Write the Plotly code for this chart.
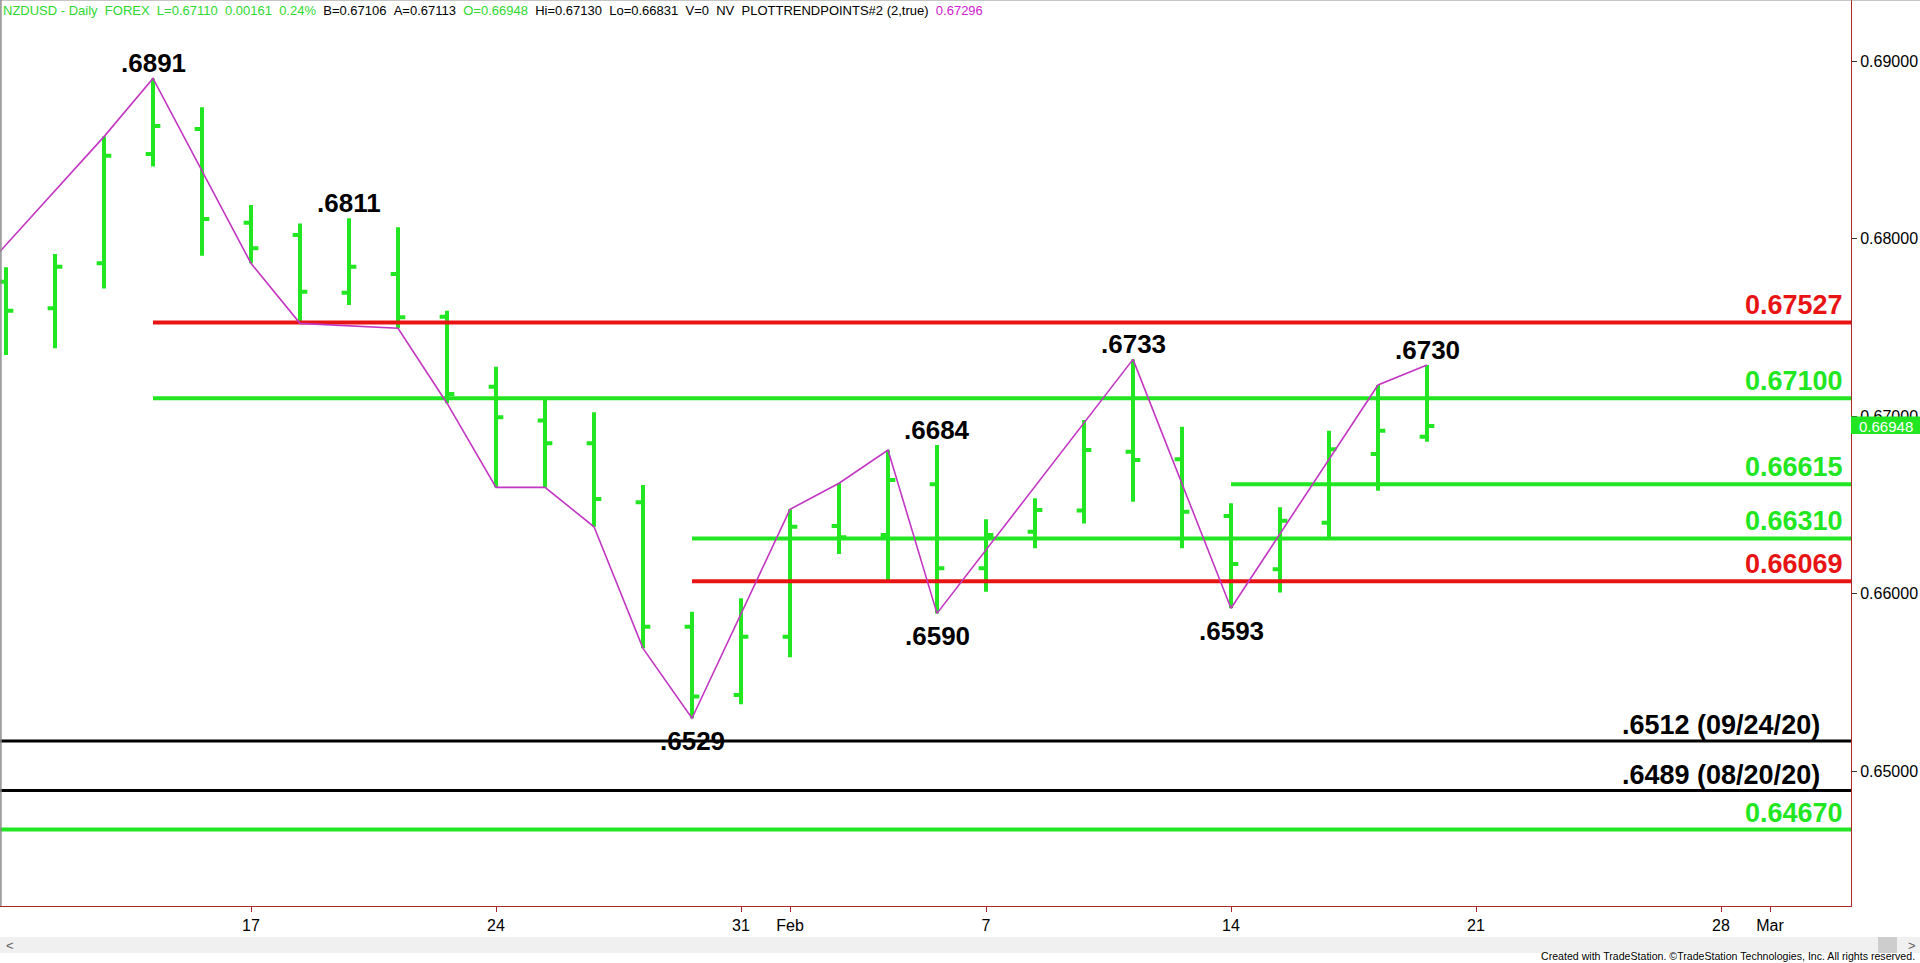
import numpy as np
import plotly.graph_objects as go

# ---------------- data ----------------
dates = ["2022-01-10", "2022-01-11", "2022-01-12", "2022-01-13", "2022-01-14",
         "2022-01-17", "2022-01-18", "2022-01-19", "2022-01-20", "2022-01-21",
         "2022-01-24", "2022-01-25", "2022-01-26", "2022-01-27", "2022-01-28",
         "2022-01-31", "2022-02-01", "2022-02-02", "2022-02-03", "2022-02-04",
         "2022-02-07", "2022-02-08", "2022-02-09", "2022-02-10", "2022-02-11",
         "2022-02-14", "2022-02-15", "2022-02-16", "2022-02-17", "2022-02-18"]
opens = [0.67757, 0.67607, 0.67860, 0.68476, 0.68617,
         0.68089, 0.68020, 0.67695, 0.67800, 0.67559,
         0.67165, 0.66974, 0.66846, 0.66514, 0.65813,
         0.65428, 0.65757, 0.66380, 0.66330, 0.66615,
         0.66142, 0.66348, 0.66467, 0.66799, 0.66756,
         0.66437, 0.66136, 0.66399, 0.66786, 0.66883]
highs = [0.67838, 0.67913, 0.68574, 0.68902, 0.68739,
         0.68189, 0.68085, 0.68114, 0.68063, 0.67593,
         0.67278, 0.67090, 0.67021, 0.66611, 0.65897,
         0.65973, 0.66474, 0.66621, 0.66808, 0.66837,
         0.66418, 0.66536, 0.66977, 0.67319, 0.66940,
         0.66508, 0.66486, 0.66917, 0.67175, 0.67287]
lows = [0.67344, 0.67381, 0.67719, 0.68405, 0.67903,
        0.67860, 0.67522, 0.67625, 0.67494, 0.67072,
        0.66598, 0.66598, 0.66376, 0.65691, 0.65297,
        0.65376, 0.65641, 0.66223, 0.66076, 0.65888,
        0.66010, 0.66255, 0.66395, 0.66517, 0.66255,
        0.65917, 0.66005, 0.66305, 0.66579, 0.66855]
closes = [0.67593, 0.67841, 0.68466, 0.68634, 0.68110,
          0.67945, 0.67700, 0.67841, 0.67556, 0.67124,
          0.66993, 0.66846, 0.66532, 0.65813, 0.65419,
          0.65757, 0.66376, 0.66317, 0.66639, 0.66142,
          0.66330, 0.66470, 0.66808, 0.66752, 0.66461,
          0.66166, 0.66410, 0.66812, 0.66917, 0.66944]

# zig-zag trend points (PlotTrendPoints)
trend_dates = ["2022-01-07", "2022-01-12", "2022-01-13", "2022-01-17", "2022-01-18",
               "2022-01-20", "2022-01-21", "2022-01-24", "2022-01-25", "2022-01-26",
               "2022-01-27", "2022-01-28", "2022-02-01", "2022-02-02", "2022-02-03",
               "2022-02-04", "2022-02-10", "2022-02-14", "2022-02-17", "2022-02-18"]
trend_prices = [0.6766, 0.68574, 0.68902, 0.67860, 0.67522,
                0.67494, 0.67072, 0.66598, 0.66598, 0.66376,
                0.65691, 0.65297, 0.66474, 0.66621, 0.66808,
                0.65888, 0.67319, 0.65917, 0.67175, 0.67287]

# swing labels
pivot_dates = ["2022-01-13", "2022-01-19", "2022-01-28", "2022-02-04",
               "2022-02-04", "2022-02-10", "2022-02-14", "2022-02-18"]
pivot_prices = [0.68902, 0.68114, 0.65297, 0.66837,
                0.65888, 0.67319, 0.65917, 0.67287]
pivot_texts = [".6891", ".6811", ".6529", ".6684", ".6590", ".6733", ".6593", ".6730"]
pivot_side = ["high", "high", "low", "high", "low", "high", "low", "high"]

# horizontal levels
level_prices = [0.67527, 0.67100, 0.66615, 0.66310, 0.66069]
level_start = ["2022-01-13", "2022-01-13", "2022-02-14", "2022-01-28", "2022-01-28"]
level_texts = ["0.67527", "0.67100", "0.66615", "0.66310", "0.66069"]
level_kind = ["red", "green", "green", "green", "red"]

hist_prices = [0.65169, 0.6489]
hist_texts = [".6512 (09/24/20)", ".6489 (08/20/20)"]
bottom_level_price = 0.6467
bottom_level_text = "0.64670"

tick_dates = ["2022-01-17", "2022-01-24", "2022-01-31", "2022-02-01", "2022-02-07",
              "2022-02-14", "2022-02-21", "2022-02-28", "2022-03-01"]
tick_labels = ["17", "24", "31", "Feb", "7", "14", "21", "28", "Mar"]
y_ticks = [0.65, 0.66, 0.67, 0.68, 0.69]

last_price = 0.66948

# ---------------- styles ----------------
GREEN = "#22E622"
RED = "#E81414"
MAGENTA = "#C236C2"
AXIS = "#A8282A"
FONT = "Liberation Sans, Arial, sans-serif"
kind_color = {"red": RED, "green": GREEN}

START = dates[0]


def idx(d):
    return int(np.busday_count(START, d)) if d >= START else -int(np.busday_count(d, START))


xb = [idx(d) for d in dates]
XMIN, XMAX = -0.1224, 37.653
YMIN, YMAX = 0.642394, 0.693437

fig = go.Figure()

fig.add_trace(go.Ohlc(
    x=xb, open=opens, high=highs, low=lows, close=closes,
    increasing=dict(line=dict(color=GREEN, width=4)),
    decreasing=dict(line=dict(color=GREEN, width=4)),
    tickwidth=0.15, hoverinfo="skip", showlegend=False))

for p, s, k in zip(level_prices, level_start, level_kind):
    fig.add_trace(go.Scatter(x=[idx(s), XMAX], y=[p, p], mode="lines",
                             line=dict(color=kind_color[k], width=4),
                             hoverinfo="skip", showlegend=False))
for p in hist_prices:
    fig.add_trace(go.Scatter(x=[XMIN, XMAX], y=[p, p], mode="lines",
                             line=dict(color="black", width=3),
                             hoverinfo="skip", showlegend=False))
fig.add_trace(go.Scatter(x=[XMIN, XMAX], y=[bottom_level_price] * 2, mode="lines",
                         line=dict(color=GREEN, width=4),
                         hoverinfo="skip", showlegend=False))

fig.add_trace(go.Scatter(x=[idx(d) for d in trend_dates], y=trend_prices, mode="lines",
                         line=dict(color=MAGENTA, width=1.6),
                         hoverinfo="skip", showlegend=False))

ann = []
for d, p, t, s in zip(pivot_dates, pivot_prices, pivot_texts, pivot_side):
    ann.append(dict(x=idx(d), y=p, xref="x", yref="y", text="<b>%s</b>" % t,
                    showarrow=False, xanchor="center",
                    yanchor="bottom" if s == "high" else "top",
                    yshift=-2 if s == "high" else -6,
                    font=dict(family=FONT, size=26, color="black")))

for p, t, k in zip(level_prices, level_texts, level_kind):
    ann.append(dict(x=0.9968, y=p, xref="paper", yref="y", text="<b>%s</b>" % t,
                    showarrow=False, xanchor="right", yanchor="bottom", yshift=0,
                    font=dict(family=FONT, size=27, color=kind_color[k])))
for p, t in zip(hist_prices, hist_texts):
    ann.append(dict(x=0.9843, y=p, xref="paper", yref="y", text="<b>%s</b>" % t,
                    showarrow=False, xanchor="right", yanchor="bottom", yshift=-1,
                    font=dict(family=FONT, size=27, color="black")))
ann.append(dict(x=0.9968, y=bottom_level_price, xref="paper", yref="y",
                text="<b>%s</b>" % bottom_level_text,
                showarrow=False, xanchor="right", yanchor="bottom", yshift=0,
                font=dict(family=FONT, size=27, color=GREEN)))

# last price marker on the axis
ann.append(dict(x=1.0035, y=last_price, xref="paper", yref="y", text="%.5f" % last_price,
                showarrow=False, xanchor="left", yanchor="middle", yshift=-1,
                font=dict(family=FONT, size=15, color="white")))

# header
sp = "&nbsp;&nbsp;"
hdr = ('<span style="color:#2ED82E">NZDUSD - Daily' + sp + 'FOREX' + sp + 'L=0.67110' + sp +
       '0.00161' + sp + '0.24%</span>' + sp + 'B=0.67106' + sp + 'A=0.67113' + sp +
       '<span style="color:#2ED82E">O=0.66948</span>' + sp + 'Hi=0.67130' + sp +
       'Lo=0.66831' + sp + 'V=0' + sp + 'NV' + sp + 'PLOTTRENDPOINTS#2 (2,true)' + sp +
       '<span style="color:#D020D0">0.67296</span>')
ann.append(dict(x=0.0, y=1.0, xref="paper", yref="paper", text=hdr, showarrow=False,
                xanchor="left", yanchor="top", xshift=1, yshift=-1,
                font=dict(family=FONT, size=13, color="black")))

ann.append(dict(x=1920 / 1851, y=-50 / 906, xref="paper", yref="paper",
                text="Created with TradeStation. \u00a9TradeStation Technologies, Inc. All rights reserved.",
                showarrow=False, xanchor="right", yanchor="middle", xshift=-3,
                font=dict(family=FONT, size=10.6, color="black")))
ann.append(dict(x=4 / 1851, y=-39 / 906, xref="paper", yref="paper", text="&lt;",
                showarrow=False, xanchor="left", yanchor="middle",
                font=dict(family=FONT, size=13, color="#606060")))
ann.append(dict(x=1912 / 1851, y=-39 / 906, xref="paper", yref="paper", text="&gt;",
                showarrow=False, xanchor="center", yanchor="middle",
                font=dict(family=FONT, size=13, color="#606060")))

half = 8.7 / 17750
shapes = [
    dict(type="rect", xref="paper", yref="y", x0=1.0, x1=1.04, y0=last_price - half,
         y1=last_price + half, fillcolor=GREEN, line=dict(width=0), layer="above"),
    dict(type="rect", xref="paper", yref="paper", x0=0, x1=1.04, y0=-47 / 906, y1=-31 / 906,
         fillcolor="#F0F0F0", line=dict(width=0), layer="below"),
    dict(type="rect", xref="paper", yref="paper", x0=1878 / 1851, x1=1897 / 1851,
         y0=-47 / 906, y1=-31 / 906, fillcolor="#CDCDCD", line=dict(width=0), layer="below"),
    dict(type="line", xref="paper", yref="paper", x0=0.0005, x1=0.0005, y0=0, y1=1,
         line=dict(color="#8C8C8C", width=1.5)),
    dict(type="line", xref="paper", yref="paper", x0=0, x1=1.04, y0=1, y1=1,
         line=dict(color="#8C8C8C", width=1)),
]

fig.update_layout(
    width=1920, height=963,
    margin=dict(l=0, r=69, t=0, b=57),
    paper_bgcolor="white", plot_bgcolor="white",
    showlegend=False,
    annotations=ann, shapes=shapes,
    xaxis=dict(range=[XMIN, XMAX], tickvals=[idx(d) for d in tick_dates], ticktext=tick_labels,
               ticks="outside", ticklen=5, tickcolor=AXIS, showline=True, linecolor=AXIS,
               linewidth=1, showgrid=False, zeroline=False, rangeslider=dict(visible=False),
               tickfont=dict(family=FONT, size=16, color="black"), fixedrange=True),
    yaxis=dict(range=[YMIN, YMAX], side="right", tickvals=y_ticks, tickformat=".5f",
               ticks="outside", ticklen=5, tickcolor="#333333", showline=True, linecolor=AXIS,
               linewidth=1, showgrid=False, zeroline=False,
               tickfont=dict(family=FONT, size=16, color="black"), fixedrange=True),
)

fig.write_html("out.html", config={"displayModeBar": False},
               post_script="document.body.style.margin='0';document.body.style.overflow='hidden';")
